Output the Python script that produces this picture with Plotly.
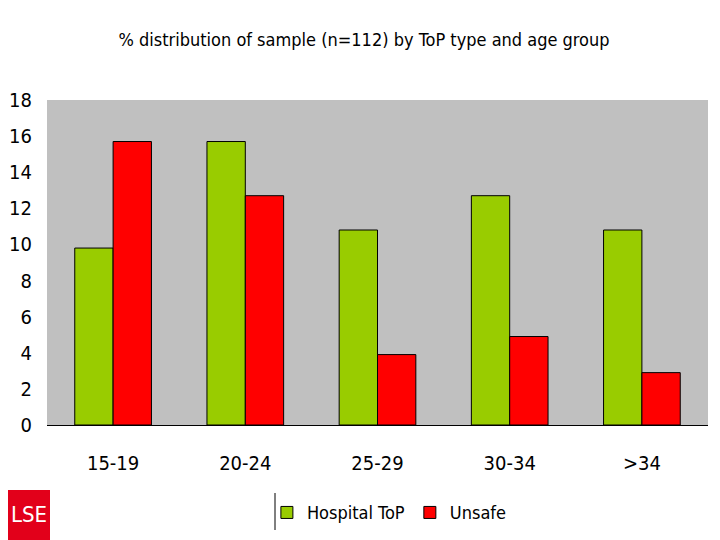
import plotly.graph_objects as go

categories = ["15-19", "20-24", "25-29", "30-34", ">34"]
hospital = [9.8, 15.7, 10.8, 12.7, 10.8]
unsafe = [15.7, 12.7, 3.9, 4.9, 2.9]
y_ticks = [0, 2, 4, 6, 8, 10, 12, 14, 16, 18]

FONT = "DejaVu Sans Condensed, Liberation Sans Narrow, Arial Narrow, Liberation Sans"

fig = go.Figure()
fig.add_trace(go.Bar(x=categories, y=hospital, name="Hospital ToP",
                     marker=dict(color="#99CC00", line=dict(color="black", width=1))))
fig.add_trace(go.Bar(x=categories, y=unsafe, name="Unsafe",
                     marker=dict(color="#FF0000", line=dict(color="black", width=1))))

fig.update_layout(
    width=712, height=532,
    margin=dict(l=39, r=12, t=92, b=115, autoexpand=False),
    paper_bgcolor="white", plot_bgcolor="#C0C0C0",
    barmode="group", bargap=0.42, bargroupgap=0,
    font=dict(family=FONT, size=20, color="black"),
    title=dict(text="% distribution of sample (n=112) by ToP type and age group",
               x=0.5, xanchor="center", y=0.94, yanchor="middle",
               font=dict(family=FONT, size=18)),
    showlegend=True,
    legend=dict(orientation="h", x=0.518, xanchor="center", y=-0.27, yanchor="middle",
                font=dict(family=FONT, size=18), itemwidth=30, traceorder="normal",
                bgcolor="rgba(0,0,0,0)"),
    xaxis=dict(showgrid=False, showline=True, linecolor="black", linewidth=1,
               ticks="", tickfont=dict(family=FONT, size=20), ticklabelstandoff=20,
               automargin=False),
    yaxis=dict(range=[0, 18], tickvals=y_ticks, showgrid=False, showline=False,
               zeroline=False, ticks="", tickfont=dict(family=FONT, size=20),
               ticklabelstandoff=14, automargin=False),
)

# LSE logo
fig.add_shape(type="rect", xref="paper", yref="paper",
              x0=-39/661, x1=3/661, y0=-115/325, y1=-65/325,
              fillcolor="#E2001A", line=dict(width=0))
fig.add_annotation(text="LSE", xref="paper", yref="paper",
                   x=-18/661, y=-90/325, showarrow=False,
                   xanchor="center", yanchor="middle",
                   font=dict(family=FONT, size=22, color="white"))
# legend separator line
fig.add_shape(type="line", xref="paper", yref="paper",
              x0=228/661, x1=228/661, y0=-68/325, y1=-105/325,
              line=dict(color="black", width=1))

fig.write_html("out.html")
